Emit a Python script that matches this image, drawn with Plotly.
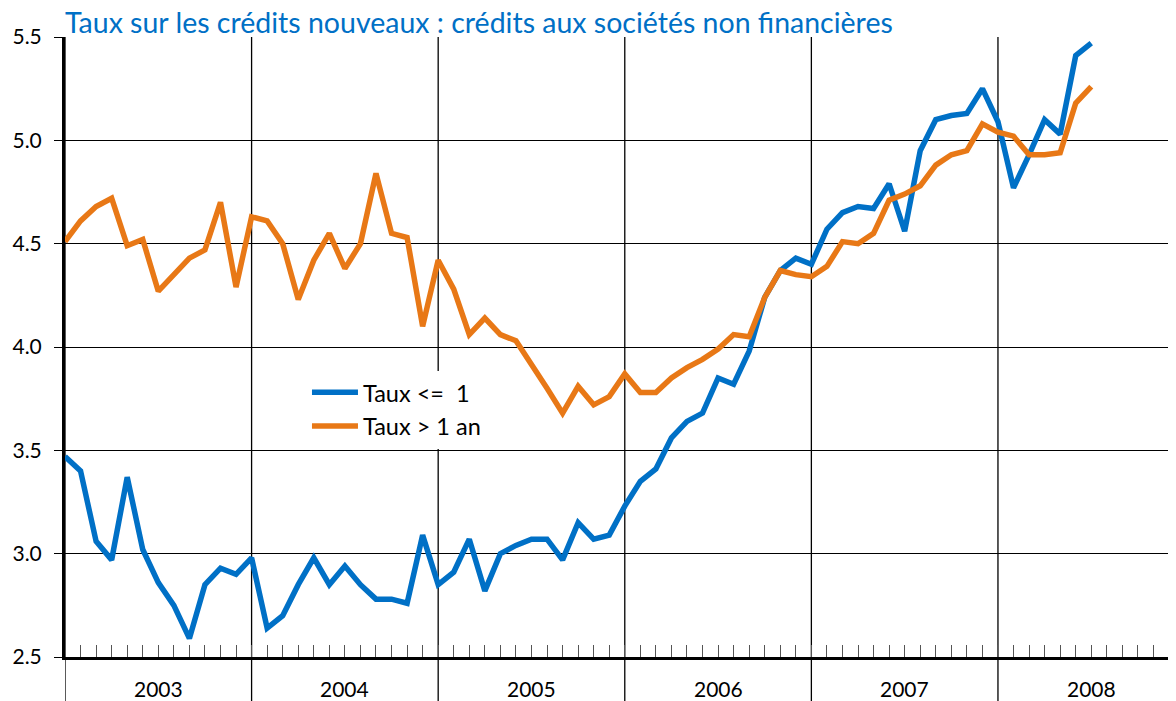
import plotly.graph_objects as go

years = ["2003", "2004", "2005", "2006", "2007", "2008"]
months_index = list(range(67))  # Jan 2003 .. Jul 2008, month number from Jan 2003

taux_court = [3.47, 3.40, 3.06, 2.97, 3.37, 3.02, 2.86, 2.75, 2.59, 2.85, 2.93, 2.90,
              2.98, 2.64, 2.70, 2.85, 2.98, 2.85, 2.94, 2.85, 2.78, 2.78, 2.76, 3.09,
              2.85, 2.91, 3.07, 2.82, 3.00, 3.04, 3.07, 3.07, 2.97, 3.15, 3.07, 3.09,
              3.23, 3.35, 3.41, 3.56, 3.64, 3.68, 3.85, 3.82, 3.98, 4.24, 4.37, 4.43,
              4.40, 4.57, 4.65, 4.68, 4.67, 4.79, 4.56, 4.95, 5.10, 5.12, 5.13, 5.25,
              5.09, 4.77, 4.93, 5.10, 5.03, 5.41, 5.47]

taux_long = [4.51, 4.61, 4.68, 4.72, 4.49, 4.52, 4.27, 4.35, 4.43, 4.47, 4.70, 4.29,
             4.63, 4.61, 4.50, 4.23, 4.42, 4.55, 4.38, 4.50, 4.84, 4.55, 4.53, 4.10,
             4.42, 4.28, 4.06, 4.14, 4.06, 4.03, 3.92, 3.80, 3.68, 3.81, 3.72, 3.76,
             3.87, 3.78, 3.78, 3.85, 3.90, 3.94, 3.99, 4.06, 4.05, 4.24, 4.37, 4.35,
             4.34, 4.39, 4.51, 4.50, 4.55, 4.71, 4.74, 4.78, 4.88, 4.93, 4.95, 5.08,
             5.04, 5.02, 4.93, 4.93, 4.94, 5.18, 5.26]

y_ticks = [2.5, 3.0, 3.5, 4.0, 4.5, 5.0, 5.5]
y_labels = ["2.5", "3.0", "3.5", "4.0", "4.5", "5.0", "5.5"]

BLUE = "#0070C6"
ORANGE = "#E87816"
FONT = "Lato"

fig = go.Figure()
fig.add_trace(go.Scatter(x=months_index, y=taux_court, mode="lines",
                         name="Taux &lt;=&nbsp; 1",
                         line=dict(color=BLUE, width=5.5)))
fig.add_trace(go.Scatter(x=months_index, y=taux_long, mode="lines",
                         name="Taux &gt; 1 an",
                         line=dict(color=ORANGE, width=5.5)))

# year separator lines, extending below the axis
for k in range(len(years) + 1):
    fig.add_shape(type="line", xref="x", yref="paper", x0=12 * k, x1=12 * k,
                  y0=-0.1, y1=1, line=dict(color="black", width=1.3), layer="below")

# year labels
for k, yr in enumerate(years):
    fig.add_annotation(x=12 * k + 6, y=-0.0516, xref="x", yref="paper", text=yr,
                       showarrow=False, yanchor="middle",
                       font=dict(family=FONT, size=21, color="black"))

fig.update_layout(
    width=1176, height=701,
    margin=dict(l=57, r=8, t=29, b=52, autoexpand=False),
    paper_bgcolor="white", plot_bgcolor="white",
    title=dict(text="Taux sur les crédits nouveaux : crédits aux sociétés non financières",
               x=57 / 1176, xanchor="left", y=1 - 15 / 701, yanchor="middle",
               font=dict(family=FONT, size=28.5, color=BLUE), automargin=False),
    legend=dict(x=0.2178, y=0.462, xanchor="left", yanchor="top",
                bgcolor="white", font=dict(family=FONT, size=23.5, color="black"),
                itemwidth=46, tracegroupgap=0),
    xaxis=dict(range=[0, 71.45], showgrid=False, zeroline=False, automargin=False,
               showline=True, linewidth=3, linecolor="black",
               tickmode="linear", tick0=0, dtick=1, ticks="inside", ticklen=12,
               tickwidth=1, tickcolor="#555", showticklabels=False),
    yaxis=dict(range=[2.5, 5.5], tickvals=y_ticks, ticktext=y_labels, automargin=False,
               showgrid=True, gridcolor="black", gridwidth=1.3, zeroline=False,
               showline=True, linewidth=3, linecolor="black",
               ticks="outside", ticklen=8, tickwidth=1.3, tickcolor="black",
               ticklabelstandoff=8,
               tickfont=dict(family=FONT, size=21, color="black")),
)

fig.write_html("out.html")
